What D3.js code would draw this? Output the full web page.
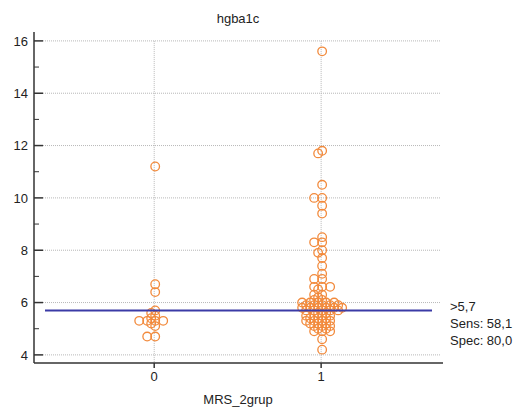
<!DOCTYPE html>
<html>
<head>
<meta charset="utf-8">
<script src="https://cdn.jsdelivr.net/npm/d3@7"></script>
<style>
  body { margin: 0; background: #fff; }
  text { font-family: "Liberation Sans", Arial, sans-serif; fill: #222; }
</style>
</head>
<body>
<div id="chart"></div>
<script>
const groups = ["0", "1"];
const group0 = [11.2, 6.7, 6.4, 5.7, 5.6, 5.5, 5.4, 5.3, 5.3, 5.3, 5.3, 5.2, 5.1, 4.7, 4.7];
const group1 = [15.6, 11.8, 11.7, 10.5, 10.0, 10.0, 9.7, 9.4, 8.5, 8.3, 8.3, 8.0, 7.9,
  7.7, 7.4, 7.1, 6.9, 6.9, 6.6, 6.6, 6.6, 6.5, 6.3, 6.3, 6.2, 6.1, 6.1,
  6.0, 6.0, 6.0, 6.0, 6.0, 5.9, 5.9, 5.9, 5.9, 5.9, 5.8, 5.8, 5.8, 5.8, 5.8, 5.8,
  5.7, 5.7, 5.7, 5.7, 5.7, 5.6, 5.6, 5.5, 5.5, 5.5, 5.5,
  5.4, 5.4, 5.4, 5.3, 5.3, 5.3, 5.3, 5.2, 5.2, 5.2, 5.1, 5.1, 5.1, 5.0, 5.0,
  4.9, 4.9, 4.9, 4.6, 4.2];
const yTicks = [4, 6, 8, 10, 12, 14, 16];
const yMinor = [5, 7, 9, 11, 13, 15];
const cutoff = 5.7;
const cutoffLabels = [">5,7", "Sens: 58,1", "Spec: 80,0"];
const title = "hgba1c";
const xTitle = "MRS_2grup";

const width = 523, height = 407;

const svg = d3.select("#chart").append("svg")
  .attr("width", width)
  .attr("height", height);

const x = d3.scaleLinear().domain([-0.72, 1.73]).range([34, 443]);
const y = d3.scaleLinear().domain([3.69, 16.34]).range([363, 32]);

// grid
svg.append("g").selectAll("line")
  .data(yTicks)
  .enter().append("line")
  .attr("x1", 43).attr("x2", 440)
  .attr("y1", d => y(d)).attr("y2", d => y(d))
  .attr("stroke", "#b8b8b8").attr("stroke-dasharray", "1,1");

svg.append("g").selectAll("line")
  .data(groups)
  .enter().append("line")
  .attr("x1", (d, i) => x(i)).attr("x2", (d, i) => x(i))
  .attr("y1", y(16)).attr("y2", 363)
  .attr("stroke", "#b8b8b8").attr("stroke-dasharray", "1,1");

// y axis
const yAxis = svg.append("g").attr("transform", "translate(34,0)");
yAxis.append("line").attr("x1", 0).attr("x2", 0).attr("y1", 32).attr("y2", 363)
  .attr("stroke", "#333").attr("stroke-width", 1.5);
yAxis.selectAll(".major").data(yTicks).enter().append("line")
  .attr("x1", 0).attr("x2", 9).attr("y1", d => y(d)).attr("y2", d => y(d))
  .attr("stroke", "#333").attr("stroke-width", 1.5);
yAxis.selectAll(".minor").data(yMinor).enter().append("line")
  .attr("x1", 0).attr("x2", 5).attr("y1", d => y(d)).attr("y2", d => y(d))
  .attr("stroke", "#333").attr("stroke-width", 1);
yAxis.selectAll("text").data(yTicks).enter().append("text")
  .attr("x", -6).attr("y", d => y(d)).attr("dy", "0.36em")
  .attr("text-anchor", "end").attr("font-size", 13)
  .text(d => d);

// x axis
const xAxis = svg.append("g");
xAxis.append("line").attr("x1", 34).attr("x2", 443).attr("y1", 363).attr("y2", 363)
  .attr("stroke", "#333").attr("stroke-width", 1.5);
xAxis.selectAll(".tick").data(groups).enter().append("line")
  .attr("x1", (d, i) => x(i)).attr("x2", (d, i) => x(i))
  .attr("y1", 363).attr("y2", 368)
  .attr("stroke", "#333").attr("stroke-width", 1.5);
xAxis.selectAll("text").data(groups).enter().append("text")
  .attr("x", (d, i) => x(i)).attr("y", 381)
  .attr("text-anchor", "middle").attr("font-size", 13)
  .text(d => d);

svg.append("text").attr("x", 238).attr("y", 404)
  .attr("text-anchor", "middle").attr("font-size", 13).text(xTitle);
svg.append("text").attr("x", 238).attr("y", 23)
  .attr("text-anchor", "middle").attr("font-size", 13).text(title);

// beeswarm layout: each point goes as near the centre as it can,
// colliding through an ellipse (wide across, short up and down)
function dodge(values, cx, gx, gy) {
  const placed = [];
  const sorted = values.slice().sort((a, b) => b - a);
  sorted.forEach(v => {
    const py = y(v);
    let off = 0;
    for (let k = 0; k < 400; k++) {
      const cand = (k % 2 === 0 ? 1 : -1) * Math.ceil(k / 2) * 0.5;
      const ok = placed.every(p => {
        const dx = (p.x - (cx + cand)) / gx, dy = (p.y - py) / gy;
        return dx * dx + dy * dy >= 1;
      });
      if (ok) { off = cand; break; }
    }
    placed.push({ x: cx + off, y: py, v });
  });
  return placed;
}

const pts = dodge(group0, x(0) + 1, 7.7, 3.0).concat(dodge(group1, x(1) + 1, 7.7, 3.0));

svg.append("g").selectAll("circle")
  .data(pts)
  .enter().append("circle")
  .attr("cx", d => d.x).attr("cy", d => d.y)
  .attr("r", 4.3)
  .attr("fill", "none")
  .attr("stroke", "#f28a3c")
  .attr("stroke-width", 1.3);

// cut-off line
svg.append("line")
  .attr("x1", 45).attr("x2", 432)
  .attr("y1", y(cutoff)).attr("y2", y(cutoff))
  .attr("stroke", "#3b3ba6").attr("stroke-width", 2);

svg.append("g").selectAll("text")
  .data(cutoffLabels)
  .enter().append("text")
  .attr("x", 450).attr("y", (d, i) => 311 + i * 17)
  .attr("font-size", 13)
  .text(d => d);
</script>
</body>
</html>
